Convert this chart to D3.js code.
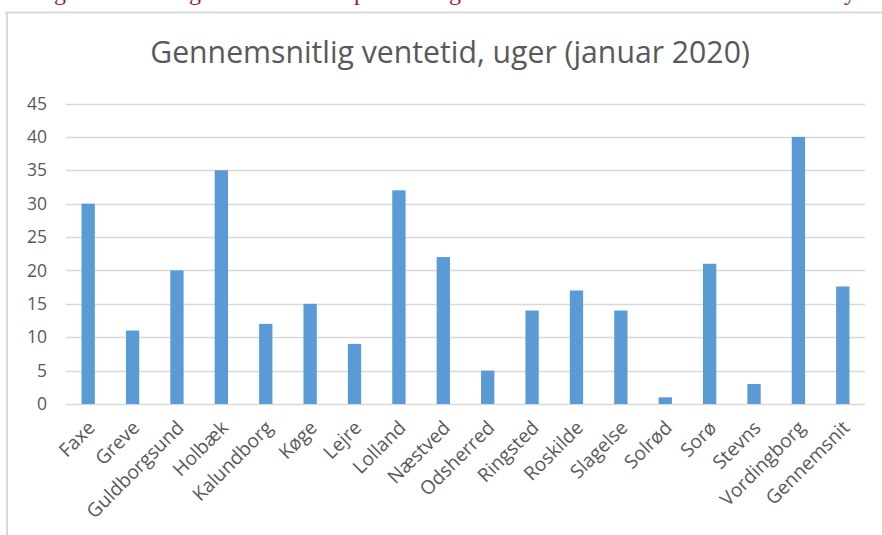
<!DOCTYPE html>
<html>
<head>
<meta charset="utf-8">
<script src="https://cdn.jsdelivr.net/npm/d3@7"></script>
<style>
  html, body { margin: 0; padding: 0; background: #fff; }
  svg { display: block; }
</style>
</head>
<body>
<svg id="chart" width="882" height="535"></svg>
<script>
const categories = ["Faxe","Greve","Guldborgsund","Holbæk","Kalundborg","Køge","Lejre","Lolland","Næstved","Odsherred","Ringsted","Roskilde","Slagelse","Solrød","Sorø","Stevns","Vordingborg","Gennemsnit"];
const values = [30, 11, 20, 35, 12, 15, 9, 32, 22, 5, 14, 17, 14, 1, 21, 3, 40, 17.6];
const yTicks = [0, 5, 10, 15, 20, 25, 30, 35, 40, 45];
const title = "Gennemsnitlig ventetid, uger (januar 2020)";
const headingFragments = [{t:"g", x:60},{t:"g", x:195},{t:"p", x:360},{t:"g", x:455},{t:"y", x:850}];

const svg = d3.select("#chart");
const font = "'Open Sans', sans-serif";
const grey = "#595959";

// fit a font size so that a text reaches a target width
function fitSize(txt, target, base) {
  const t = svg.append("text").attr("font-family", font).attr("font-size", base).text(txt);
  const w = t.node().getComputedTextLength();
  t.remove();
  return base * target / w;
}

// cropped heading text above the chart (only descenders visible)
svg.append("g").selectAll("text").data(headingFragments).join("text")
  .attr("x", d => d.x).attr("y", 0)
  .attr("text-anchor", "middle")
  .attr("font-family", "'Liberation Serif', serif")
  .attr("font-size", 24)
  .attr("fill", "#a01240")
  .text(d => d.t);

// frame
svg.append("line").attr("x1", 5).attr("x2", 882).attr("y1", 12.5).attr("y2", 12.5)
  .attr("stroke", "#d9d9d9").attr("stroke-width", 2);
svg.append("line").attr("x1", 7).attr("x2", 7).attr("y1", 12).attr("y2", 535)
  .attr("stroke", "#d9d9d9").attr("stroke-width", 2);

const m = {left: 66, right: 865, top: 103.5, bottom: 404};
const x = d3.scaleBand().domain(categories).range([m.left, m.right]).paddingInner(0.7).paddingOuter(0.35);
const y = d3.scaleLinear().domain([0, 45]).range([m.bottom, m.top]);

// gridlines
svg.append("g").selectAll("line").data(yTicks).join("line")
  .attr("x1", m.left).attr("x2", m.right)
  .attr("y1", d => Math.round(y(d)) + 0.5).attr("y2", d => Math.round(y(d)) + 0.5)
  .attr("stroke", "#d9d9d9").attr("stroke-width", 1.3);

// y axis labels
const yAxis = d3.axisLeft(y).tickValues(yTicks).tickSize(0).tickPadding(0);
const ya = svg.append("g").attr("transform", "translate(47,0)").call(yAxis);
ya.select(".domain").remove();
ya.selectAll("text").attr("font-family", font).attr("font-size", 17.5).attr("fill", grey);

// bars
svg.append("g").selectAll("rect").data(values).join("rect")
  .attr("x", (d, i) => x(categories[i]))
  .attr("width", x.bandwidth())
  .attr("y", d => y(d))
  .attr("height", d => y(0) - y(d))
  .attr("fill", "#5b9bd5");

// x labels
const labelSize = fitSize("Guldborgsund", 128, 16);
const xAxis = d3.axisBottom(x).tickSize(0).tickPadding(0);
const xa = svg.append("g").attr("transform", `translate(0,${m.bottom})`).call(xAxis);
xa.select(".domain").remove();
xa.selectAll("text")
  .attr("font-family", font).attr("font-size", labelSize).attr("fill", grey)
  .attr("text-anchor", "end")
  .attr("dy", "0")
  .attr("transform", "translate(8,25) rotate(-45)");

// title
const titleSize = fitSize(title, 600, 24);
svg.append("text").attr("x", 450).attr("y", 63).attr("text-anchor", "middle")
  .attr("font-family", font).attr("font-size", titleSize).attr("fill", grey)
  .text(title);
</script>
</body>
</html>
